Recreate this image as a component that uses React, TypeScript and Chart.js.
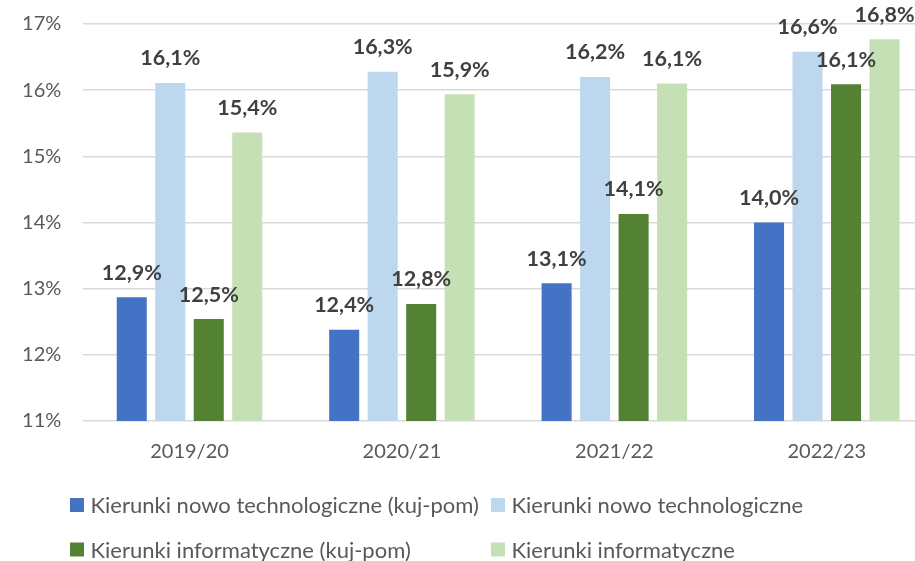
import React, { useEffect, useRef } from "react";
import { Chart, registerables } from "chart.js";

Chart.register(...registerables);

const categories = ["2019/20", "2020/21", "2021/22", "2022/23"];
const seriesNames = [
  "Kierunki nowo technologiczne (kuj-pom)",
  "Kierunki nowo technologiczne",
  "Kierunki informatyczne (kuj-pom)",
  "Kierunki informatyczne",
];
const nowoTechKujPom = [12.87, 12.38, 13.08, 14.0];
const nowoTech = [16.11, 16.28, 16.2, 16.58];
const informKujPom = [12.54, 12.77, 14.13, 16.09];
const inform = [15.36, 15.94, 16.1, 16.77];
const yMin = 11;
const yMax = 17;
const yStep = 1;

const colors = ["#4472C4", "#BDD7EE", "#548235", "#C5E0B4"];
const FONT = "Lato, 'Open Sans', sans-serif";

const dataLabelPlugin = {
  id: "dataLabels",
  afterDatasetsDraw(chart: any) {
    const ctx = chart.ctx;
    ctx.save();
    ctx.font = `bold 21.5px ${FONT}`;
    ctx.fillStyle = "#404040";
    ctx.textAlign = "center";
    ctx.textBaseline = "middle";
    chart.data.datasets.forEach((ds: any, i: number) => {
      const meta = chart.getDatasetMeta(i);
      meta.data.forEach((el: any, j: number) => {
        const v = ds.data[j] as number;
        const txt = v.toFixed(1).replace(".", ",") + "%";
        ctx.fillText(txt, el.x, el.y - 24.5);
      });
    });
    ctx.restore();
  },
};

const legendPlugin = {
  id: "customLegend",
  afterDraw(chart: any) {
    const ctx = chart.ctx;
    ctx.save();
    ctx.font = `22px ${FONT}`;
    ctx.textBaseline = "middle";
    ctx.textAlign = "left";
    const colX = [70, 491];
    const rowY = [505, 549.5];
    chart.data.datasets.forEach((ds: any, i: number) => {
      const cx = colX[i % 2];
      const cy = rowY[Math.floor(i / 2)];
      ctx.fillStyle = ds.backgroundColor;
      ctx.fillRect(cx, cy - 7, 14, 14);
      ctx.fillStyle = "#595959";
      ctx.fillText(ds.label, cx + 20.5, cy + 1);
    });
    ctx.restore();
  },
};

export default function App() {
  const ref = useRef<HTMLCanvasElement>(null);
  useEffect(() => {
    if (!ref.current) return;
    const datasets = [nowoTechKujPom, nowoTech, informKujPom, inform].map((d, i) => ({
      label: seriesNames[i],
      data: d,
      backgroundColor: colors[i],
      borderWidth: 0,
      categoryPercentage: 0.725,
      barPercentage: 0.78,
    }));
    const chart = new Chart(ref.current, {
      type: "bar",
      data: { labels: categories, datasets },
      options: {
        responsive: false,
        animation: false,
        devicePixelRatio: 1,
        layout: { padding: { top: 24, right: 2, bottom: 0, left: 0 } },
        plugins: { legend: { display: false }, tooltip: { enabled: false } },
        scales: {
          x: {
            grid: { display: false, drawTicks: false },
            border: { display: false },
            ticks: { color: "#595959", font: { family: FONT, size: 20 }, padding: 19 },
            afterFit: (s: any) => {
              s.height = 140;
            },
          },
          y: {
            min: yMin,
            max: yMax,
            grid: { color: "#D9D9D9", lineWidth: 1.5, drawTicks: false },
            border: { display: false },
            ticks: {
              stepSize: yStep,
              color: "#595959",
              font: { family: FONT, size: 20 },
              padding: 22,
              callback: (v: any) => v + "%",
            },
            afterFit: (s: any) => {
              s.width = 83.3;
              s.paddingTop = 0;
              s.paddingBottom = 0;
            },
          },
        },
      },
      plugins: [dataLabelPlugin, legendPlugin],
    });
    return () => chart.destroy();
  }, []);
  return (
    <div style={{ position: "fixed", left: 0, top: 0, width: 915, height: 561, overflow: "hidden", background: "#fff" }}>
      <canvas ref={ref} width={935} height={561} style={{ display: "block", width: 935, height: 561 }} />
    </div>
  );
}
